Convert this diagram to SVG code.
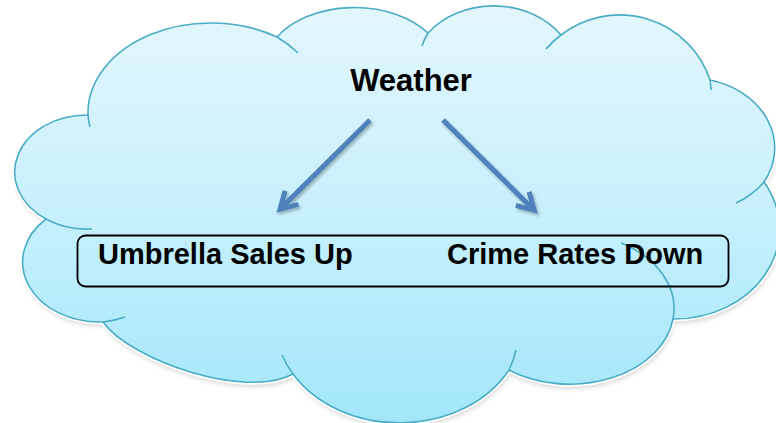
<svg xmlns="http://www.w3.org/2000/svg" width="776" height="423" viewBox="0 0 776 423">
  <defs>
    <style>
      .label { font-family: "Liberation Sans", Arial, Helvetica, sans-serif; font-weight: bold; fill: #000; }
      .cloud-edge { fill: none; stroke: #4BACC6; stroke-width: 1.6; }
      .arrow { fill: none; stroke: #4F81BD; stroke-width: 5; stroke-linecap: butt; }
      .box { fill: none; stroke: #000; stroke-width: 1.8; }
    </style>
    <linearGradient id="skyFill" gradientUnits="userSpaceOnUse" x1="0" y1="7" x2="0" y2="423">
      <stop offset="0" stop-color="#E3F7FD"/>
      <stop offset="0.5" stop-color="#C6F0FC"/>
      <stop offset="1" stop-color="#A2E6FA"/>
    </linearGradient>
    <filter id="cloudShadow" x="-10%" y="-10%" width="120%" height="130%">
      <feGaussianBlur stdDeviation="2.5"/>
    </filter>
    <filter id="arrowShadow" x="-20%" y="-20%" width="140%" height="140%">
      <feDropShadow dx="1.5" dy="2" stdDeviation="1.5" flood-color="#000" flood-opacity="0.3"/>
    </filter>
    <marker id="openHead" markerUnits="userSpaceOnUse" orient="auto" refX="0" refY="0"
            markerWidth="30" markerHeight="30" overflow="visible">
      <path d="M -16.5 -9.5 L 0 0 L -16.5 9.5" fill="none" stroke="#4F81BD" stroke-width="5" stroke-linejoin="miter"/>
    </marker>
    <!-- outline of the cloud: eleven lobes, clockwise from the lower left -->
    <path id="cloudOutline" d="M 46 219
      A 72 57 0 0 1 88 115
      A 123 90 0 0 1 277 37
      A 90 60 0 0 1 428 33
      A 83 70 0 0 1 561 35
      A 95 94 0 0 1 710 80
      A 85 70 0 0 1 764 182
      A 105 90 0 0 1 673 319
      A 104 75 0 0 1 509 370
      A 124 100 0 0 1 293 374
      C 245 400 130 360 103 322
      A 77 60 0 0 1 46 219 Z"/>
  </defs>

  <rect width="776" height="423" fill="#FFFFFF"/>

  <g id="cloud">
    <use href="#cloudOutline" transform="translate(1 4)" fill="#9A9A9A" opacity="0.45" filter="url(#cloudShadow)"/>
    <use href="#cloudOutline" fill="#FFFFFF" stroke="#FFFFFF" stroke-width="5"/>
    <use href="#cloudOutline" fill="url(#skyFill)" class="cloud-edge" style="fill:url(#skyFill)"/>
    <!-- inner lobe overlaps -->
    <path class="cloud-edge" d="
      M 46 219 A 72 57 0 0 0 92 229
      M 88 115 A 123 90 0 0 0 90 127
      M 277 37 A 123 90 0 0 1 298 53
      M 428 33 A 83 70 0 0 0 422 46
      M 561 35 A 95 94 0 0 0 546 49
      M 710 80 A 95 94 0 0 1 711 90
      M 764 182 A 85 70 0 0 1 736 203
      M 673 319 A 104 75 0 0 0 621 243
      M 509 370 A 124 100 0 0 0 516 350
      M 293 374 A 124 100 0 0 1 282 355
      M 103 322 A 77 60 0 0 0 125 317"/>
  </g>

  <g id="connectors" filter="url(#arrowShadow)">
    <line id="weather-to-umbrella" class="arrow" x1="370" y1="120" x2="280" y2="209.3" marker-end="url(#openHead)"/>
    <line id="weather-to-crime" class="arrow" x1="443" y1="120" x2="534.2" y2="210.3" marker-end="url(#openHead)"/>
  </g>

  <g id="node-weather">
    <text class="label" x="411" y="91" font-size="31" text-anchor="middle">Weather</text>
  </g>

  <g id="outcomes-box">
    <rect class="box" x="77.5" y="235.5" width="651" height="51" rx="8" ry="8"/>
  </g>

  <g id="node-umbrella">
    <text class="label" x="98" y="264" font-size="29">Umbrella Sales Up</text>
  </g>

  <g id="node-crime">
    <text class="label" x="447" y="264" font-size="29">Crime Rates Down</text>
  </g>
</svg>
